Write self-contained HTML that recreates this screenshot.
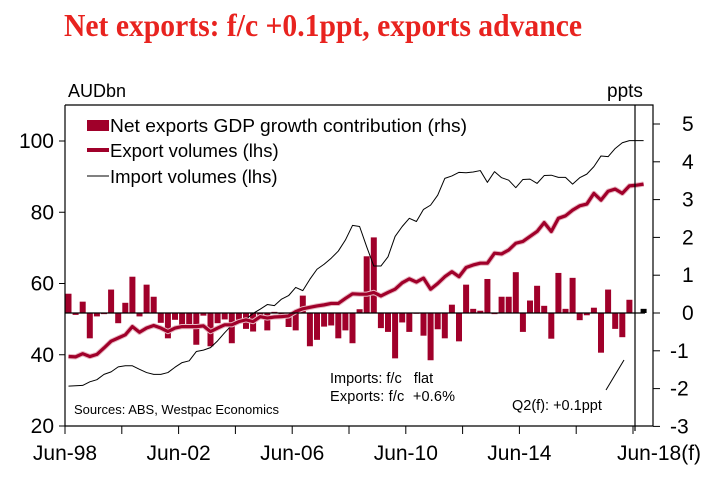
<!DOCTYPE html>
<html><head><meta charset="utf-8"><style>
html,body{margin:0;padding:0;background:#fff;width:709px;height:485px;overflow:hidden}
svg{display:block;font-family:"Liberation Sans",Arial,sans-serif}
</style></head><body>
<svg id="chart" width="709" height="485" viewBox="0 0 709 485" xmlns="http://www.w3.org/2000/svg">
<text x="64" y="36" font-family="Liberation Serif, serif" font-weight="bold" font-size="32" fill="#e8231f" textLength="518" lengthAdjust="spacingAndGlyphs">Net exports: f/c +0.1ppt, exports advance</text>
<g id="bars"></g>
<g id="lines"></g>
<g id="axes"></g>
<text x="68" y="97" font-size="18">AUDbn</text>
<text x="607" y="97" font-size="19">ppts</text>
<g font-size="18.5">
<rect x="87" y="120" width="22" height="11" fill="#a0002a"/>
<text x="110" y="132" textLength="357" lengthAdjust="spacingAndGlyphs">Net exports GDP growth contribution (rhs)</text>
<line x1="87" y1="150" x2="109" y2="150" stroke="#a0002a" stroke-width="4"/>
<text x="110" y="157">Export volumes (lhs)</text>
<line x1="87" y1="176" x2="109" y2="176" stroke="#000" stroke-width="1"/>
<text x="110" y="183">Import volumes (lhs)</text>
</g>
<text x="74" y="414" font-size="13">Sources: ABS, Westpac Economics</text>
<text x="330" y="383" font-size="14.5" style="white-space:pre" xml:space="preserve">Imports: f/c   flat</text>
<text x="330" y="401" font-size="14.5" style="white-space:pre" xml:space="preserve" textLength="125" lengthAdjust="spacing">Exports: f/c  +0.6%</text>
<text x="512" y="410" font-size="14.5">Q2(f): +0.1ppt</text>
<line x1="624" y1="360" x2="606" y2="390" stroke="#000" stroke-width="1"/>
</svg>
<script>
const netExports=[0.51,-0.05,0.3,-0.67,-0.09,-0.03,0.62,-0.27,0.27,0.96,-0.09,0.75,0.43,-0.26,-0.67,-0.18,-0.31,-0.3,-0.84,-0.07,-0.88,-0.27,-0.17,-0.8,-0.18,-0.42,-0.49,-0.09,-0.46,0.03,-0.16,-0.37,-0.46,0.46,-0.88,-0.71,-0.36,-0.33,-0.67,-0.46,-0.8,0.1,1.5,2.0,-0.4,-0.5,-1.2,-0.25,-0.5,0,-0.6,-1.25,-0.43,-0.67,0.22,-0.75,0.75,0.11,0.06,0.9,-0.03,0.43,0.43,1.08,-0.5,0.33,0.72,0.19,-0.68,1.06,0.11,0.93,-0.19,-0.06,0.14,-1.05,0.62,-0.42,-0.64,0.35,null,0.11];
const forecastIndex=81;
const exportVol=[39.5,39.4,40.3,39.5,40.1,41.9,43.8,44.7,45.6,47.9,46.3,47.5,48.2,47.5,46.5,47.5,47.9,47.9,47.9,48.1,46.5,47.5,48.4,48.4,49.3,49.8,49.3,50.7,50.3,50.6,50.7,50.9,52.1,52.9,53.3,53.7,54.0,54.4,54.4,55.8,57.1,57.0,57.0,57.5,56.5,57.5,58.4,60.2,61.3,60.4,61.5,58.4,60.0,61.9,63.3,61.9,64.5,65.2,65.7,65.7,68.5,68.3,69.4,71.3,71.8,73.2,74.6,77.1,74.6,78.3,79.0,80.6,81.8,82.3,85.3,83.4,85.9,86.5,85.3,87.4,87.6,87.9];
const importVol=[31.2,31.3,31.4,32.4,33.0,34.5,35.2,36.6,36.9,36.9,35.9,35.0,34.5,34.5,35.0,36.5,37.8,38.3,40.9,41.3,42.0,43.9,46.2,48.3,49.3,50.0,51.6,52.8,54.1,53.8,55.6,56.6,58.9,58.0,61.2,64.0,65.4,67.1,69.1,72.2,76.3,76.0,70.3,64.9,64.9,67.5,73.2,76.0,78.3,77.4,80.8,82.0,84.8,89.5,90.2,91.2,91.1,91.3,91.7,88.4,91.4,89.7,89.0,86.9,89.2,89.3,88.1,90.3,90.4,89.8,89.8,87.9,89.7,90.7,92.8,95.8,95.6,97.9,99.5,100.1,100.1,100.1];
const xTickLabels=["Jun-98","Jun-02","Jun-06","Jun-10","Jun-14","Jun-18(f)"];
const leftTicks=[20,40,60,80,100];
const rightTicks=[-3,-2,-1,0,1,2,3,4,5];

const NS="http://www.w3.org/2000/svg";
const L=65,R=653,T=105,B=426,Q=7.1;
const xq=i=>L+Q*i+3.5;
const yl=v=>B-(v-20)*3.5625;
const yr=v=>313-v*37.8;
function mk(tag,attrs,parent){const e=document.createElementNS(NS,tag);for(const k in attrs)e.setAttribute(k,attrs[k]);parent.appendChild(e);return e;}
const gb=document.getElementById('bars'),gl=document.getElementById('lines'),ga=document.getElementById('axes');
netExports.forEach((v,i)=>{if(v===null)return;
 const y0=yr(0),y1=yr(v);
 const r=mk('rect',{x:xq(i)-3,y:Math.min(y0,y1),width:6,height:Math.max(Math.abs(y1-y0),0.8),fill:i===forecastIndex?'#000':'#a0002a'},gb);
 
 
});
function poly(arr,stroke,w,name,halo){
 if(halo){mk('polyline',{points:arr.map((v,i)=>xq(i)+','+yl(v)).join(' '),fill:'none',stroke:halo,'stroke-width':w+2,'stroke-linejoin':'round'},gl);}
 const p=mk('polyline',{points:arr.map((v,i)=>xq(i)+','+yl(v)).join(' '),fill:'none',stroke:stroke,'stroke-width':w,'stroke-linejoin':'round'},gl);
 
 }
poly(importVol,'#000',1,'import-volumes-line',null);
poly(exportVol,'#a0002a',3.2,'export-volumes-line','#e8b7c2');
const f=mk('path',{d:`M${L},${T}H${R}V${B}M${L},${T}V${B}H${R}`,fill:'none',stroke:'#000','stroke-width':1.2},ga);


const z=mk('line',{x1:L,x2:R-8,y1:yr(0),y2:yr(0),stroke:'#000','stroke-width':1.2},ga);


const vl=mk('line',{x1:635,x2:635,y1:T,y2:B+5,stroke:'#000','stroke-width':1.2},ga);


leftTicks.forEach(v=>{mk('line',{x1:L-6,x2:L,y1:yl(v),y2:yl(v),stroke:'#000'},ga);
 const t=mk('text',{x:L-11,y:yl(v)+7,'text-anchor':'end','font-size':21},ga);t.textContent=v;
 
 });
rightTicks.forEach(v=>{mk('line',{x1:R,x2:R+7,y1:yr(v),y2:yr(v),stroke:'#000'},ga);
 const t=mk('text',{x:v<0?670:682,y:yr(v)+7,'font-size':21},ga);t.textContent=v;
 
 });
for(let k=0;k<=10;k++){const x=L+k*8*Q;mk('line',{x1:x,x2:x,y1:B,y2:B+8,stroke:'#000'},ga);}
xTickLabels.forEach((s,k)=>{const x=L+k*16*Q;
 const t=mk('text',{x:k===5?x+26:x,y:460,'text-anchor':'middle','font-size':21},ga);t.textContent=s;
 
 });
</script>
</body></html>
